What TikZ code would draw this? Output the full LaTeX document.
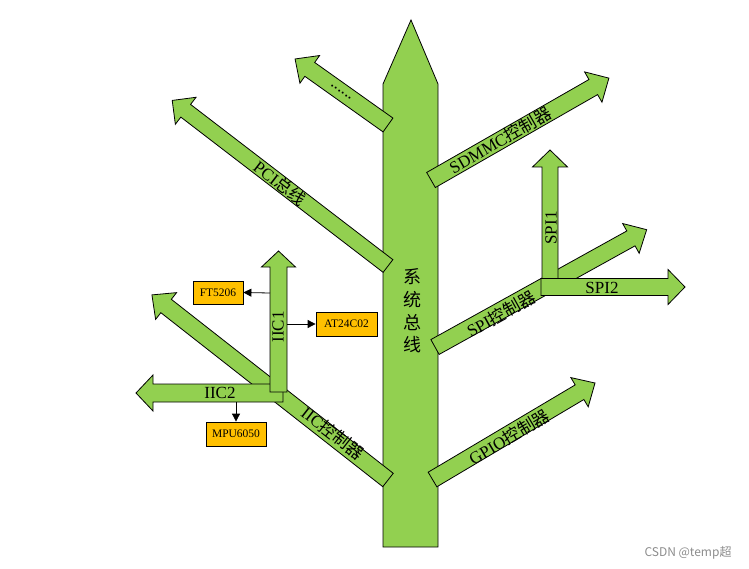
\documentclass[tikz,border=0pt]{standalone}
\usepackage{fontspec}
\setmainfont{Liberation Serif}
\newfontfamily\cjk{Noto Sans CJK SC}
\usetikzlibrary{arrows.meta}
\definecolor{leaf}{HTML}{92D050}
\definecolor{chipfill}{HTML}{FFC000}
\tikzset{
	branch/.style={fill=leaf, draw=black, line width=0.8pt, line join=miter},
	lbl/.style={font=\fontsize{17}{20}\selectfont, inner sep=0pt},
	chip/.style={draw=black, fill=chipfill, line width=0.8pt, font=\fontsize{11.5}{13}\selectfont, minimum height=23pt, inner sep=0pt},
	link/.style={-{Triangle[length=8pt,width=8pt]}, line width=0.8pt}
}
% tail, angle, length, half shaft, half head, head length
\newcommand{\blockarrow}[6]{%
	\begin{scope}[shift={#1}, rotate=#2]
		\draw[branch] (0,-#4) -- ({#3-#6},-#4) -- ({#3-#6},-#5) -- (#3,0)
			-- ({#3-#6},#5) -- ({#3-#6},#4) -- (0,#4) -- cycle;
	\end{scope}}
\begin{document}
\begin{tikzpicture}[x=1pt, y=-1pt]
	\useasboundingbox (0,0) rectangle (749,569);
	% trunk
	\draw[branch] (383,547) -- (383,84) -- (411,20) -- (438,84) -- (438,547) -- cycle;
	\blockarrow{(388,125)}{144.6}{114}{8.5}{17}{18}
	\blockarrow{(388,266)}{142.5}{272}{8}{17}{17}
	\blockarrow{(431,180)}{29.8}{205}{8.7}{17.5}{18}
	\blockarrow{(435,347)}{29}{242}{8.5}{17}{18}
	\blockarrow{(550,287)}{90}{137}{8}{17.5}{17}
	\blockarrow{(541,287)}{0}{144}{8.5}{17.5}{17}
	\blockarrow{(432.5,479.5)}{30.7}{189}{8.5}{17}{18}
	\blockarrow{(388,480)}{141.9}{300}{8.5}{17}{18}
	\blockarrow{(283,393)}{180}{147}{9}{18}{17}
	\blockarrow{(278.5,392)}{90}{141}{8.5}{17}{16}
	\node[lbl, font=\cjk\fontsize{18}{22.7}\selectfont, align=center] (bus) at (412,311) {系\\统\\总\\线};
	\node[lbl, rotate=-35.4] (dots) at (341,92) {......};
	\node[lbl, rotate=-37.5] (pci) at (280,183) {PCI{\cjk 总线}};
	\node[lbl, rotate=29.8] (sdmmc) at (500,140) {SDMMC{\cjk 控制器}};
	\node[lbl, rotate=29] (spi) at (501,314) {SPI{\cjk 控制器}};
	\node[lbl, rotate=90] (spi1) at (551,228) {SPI1};
	\node[lbl] (spi2) at (602,288) {SPI2};
	\node[lbl, rotate=30.7] (gpio) at (509,437) {GPIO{\cjk 控制器}};
	\node[lbl, rotate=-38] (iic) at (333,433) {IIC{\cjk 控制器}};
	\node[lbl] (iic2) at (220,393) {IIC2};
	\node[lbl, rotate=90] (iic1) at (278,327) {IIC1};
	\node[chip, minimum width=50pt] (ft) at (218,292.5) {FT5206};
	\node[chip, minimum width=61pt, minimum height=24pt] (at) at (346.5,324) {AT24C02};
	\node[chip, minimum width=60pt, minimum height=24pt] (mpu) at (236,434) {MPU6050};
	\coordinate (iic1w) at (270,293);
	\coordinate (iic1e) at (287,324);
	\coordinate (iic2s) at (236,402);
	\draw[link] (iic1w) -- (ft.east);
	\draw[link] (iic1e) -- (at.west);
	\draw[link] (iic2s) -- (mpu.north);
	\node[font=\cjk\fontsize{12}{14}\selectfont, text=black!45, inner sep=0pt] (mark) at (688,553) {CSDN @temp超};
\end{tikzpicture}
\end{document}
